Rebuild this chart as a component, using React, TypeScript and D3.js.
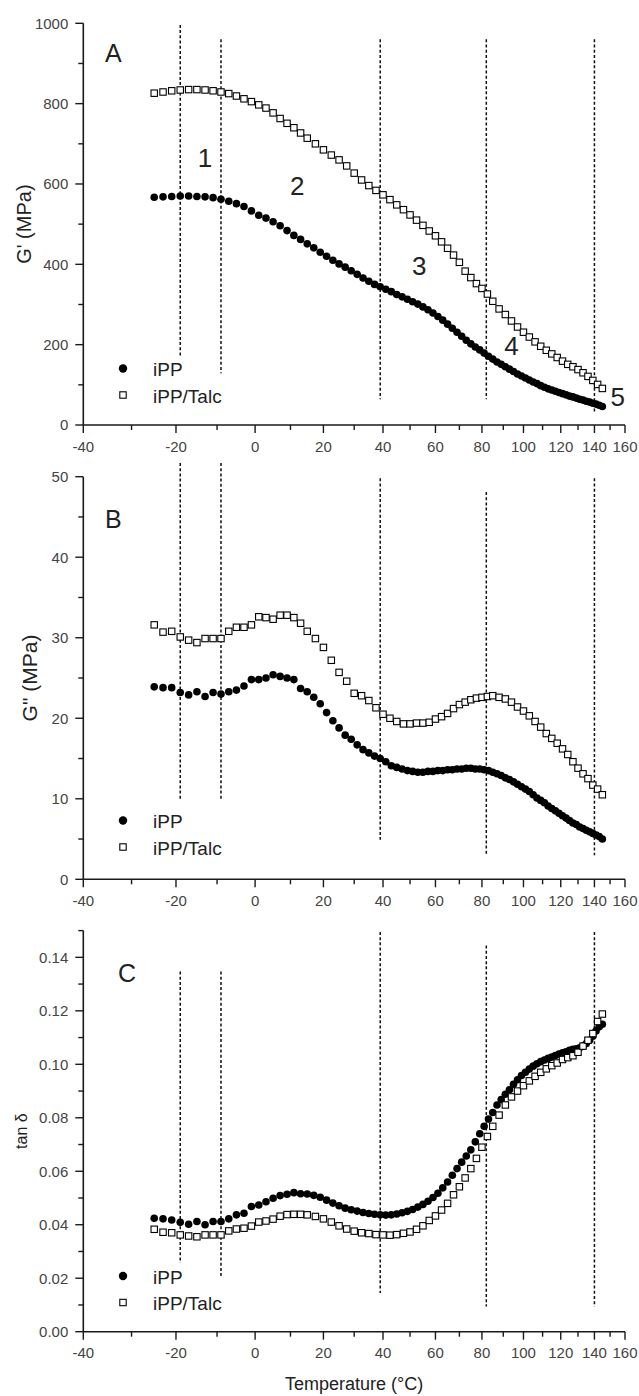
import React from 'react';
import * as d3 from 'd3';

// ---------- data ----------
const iPPTemps = [-25,-23,-21,-19,-17,-15,-13,-11,-9,-7,-5,-3,-1,1,3,5,7,9,11,13,15,17,19,21,23,25,27,29,31,33,35,37,39,41,43,45,47,49,51,53,55,57,59,61,63,65,67,69,71,73,75,77,79,81,83,85,87,89,91,93,95,97,99,101,103,105,107,109,111,113,115,117,119,121,123,125,127,129,131,133,135,137,139,141,143,145];
const talcTemps = [-25,-23,-21,-19,-17,-15,-13,-11,-9,-7,-5,-3,-1,1,3,5,7,9,11,13,15,17.5,20,22.5,25,27.5,30,32.5,35,37.5,40,42.5,45,47.5,50,52.5,55,57.5,60,62.5,65,67.5,70,72.5,75,77.5,80,82.5,85,88,91,94,97,100,103,106,109,112,115,118,121,124,127,130,133,136,139,142,145];

const gPrimeIPP = [567,568,569,570,570,569,568,566,562,557,551,544,533,522,515,506,496,484,472,462,451,441,430,420,410,401,393,384,375,366,358,350,344,338,332,325,319,313,307,301,294,287,279,270,261,251,241,231,221,211,202,194,187,179,171,164,157,151,145,139,133,127,122,117,112,107,103,98,94,90,87,84,81,78,75,72,70,67,64,62,59,57,54,52,49,46];
const gPrimeTalc = [826,829,832,834,835,835,834,832,829,825,819,812,805,797,789,777,763,751,740,727,714,700,685,672,660,645,627,610,596,584,573,561,548,536,523,510,497,483,471,456,440,423,405,383,367,352,340,326,308,289,275,259,244,231,219,207,196,186,177,168,159,151,145,138,130,121,111,101,91];

const gDoubleIPP = [23.9,23.8,23.8,23.2,22.9,23.3,22.7,23.2,23.0,23.3,23.5,24.0,24.8,24.8,25.0,25.4,25.2,25.0,24.8,23.7,23.3,22.6,21.8,20.7,19.7,18.8,17.9,17.4,16.7,16.1,15.7,15.3,15.0,14.6,14.1,13.9,13.7,13.5,13.4,13.3,13.3,13.4,13.4,13.5,13.5,13.6,13.6,13.7,13.7,13.8,13.8,13.7,13.7,13.6,13.5,13.3,13.1,12.9,12.6,12.4,12.1,11.8,11.5,11.2,10.9,10.5,10.1,9.8,9.5,9.1,8.8,8.5,8.2,7.9,7.6,7.3,7.0,6.8,6.5,6.3,6.1,5.9,5.7,5.5,5.3,5.0];
const gDoubleTalc = [31.6,30.7,30.8,30.1,29.7,29.4,29.9,29.9,29.9,30.8,31.3,31.3,31.6,32.6,32.5,32.3,32.8,32.8,32.5,31.8,30.8,29.9,28.8,27.2,25.7,24.6,23.1,22.8,22.2,21.3,20.5,20.0,19.6,19.3,19.3,19.4,19.4,19.5,19.9,20.2,20.6,21.2,21.7,22.0,22.3,22.5,22.6,22.7,22.8,22.6,22.4,22.0,21.4,20.9,20.3,19.6,18.9,18.1,17.5,16.9,16.2,15.5,14.6,13.8,13.1,12.5,11.7,11.2,10.5];

const tanDeltaIPP = [0.0424,0.0422,0.0418,0.0409,0.0402,0.0412,0.0400,0.0412,0.0412,0.0422,0.0437,0.0443,0.0468,0.0474,0.0486,0.0499,0.0509,0.0514,0.0520,0.0516,0.0515,0.0510,0.0503,0.0492,0.0481,0.0471,0.0462,0.0456,0.0451,0.0446,0.0442,0.0439,0.0437,0.0436,0.0437,0.0440,0.0445,0.0450,0.0457,0.0466,0.0476,0.0488,0.0502,0.0518,0.0538,0.0560,0.0585,0.0610,0.0634,0.0657,0.0680,0.0710,0.0740,0.0768,0.0795,0.0820,0.0848,0.0868,0.0888,0.0905,0.0925,0.0942,0.0958,0.0970,0.0982,0.0993,0.1002,0.1010,0.1016,0.1022,0.1027,0.1033,0.1038,0.1043,0.1047,0.1052,0.1056,0.1058,0.1062,0.1068,0.1078,0.1090,0.1105,0.1125,0.1140,0.1150];
const tanDeltaTalc = [0.0383,0.0372,0.0370,0.0362,0.0358,0.0355,0.0362,0.0362,0.0362,0.0377,0.0384,0.0387,0.0395,0.0410,0.0414,0.0421,0.0432,0.0438,0.0439,0.0439,0.0437,0.0431,0.0422,0.0410,0.0396,0.0384,0.0376,0.0370,0.0367,0.0363,0.0362,0.0361,0.0363,0.0368,0.0373,0.0383,0.0396,0.0416,0.0433,0.0455,0.0480,0.0512,0.0542,0.0575,0.0610,0.0648,0.0690,0.0730,0.0768,0.0810,0.0848,0.0878,0.0900,0.0920,0.0938,0.0955,0.0970,0.0983,0.0995,0.1005,0.1018,0.1025,0.1032,0.1045,0.1068,0.1090,0.1115,0.1160,0.1188];

// region boundaries (dashed lines)
const dividerTemps = [-19, -9, 39, 82, 140];
const dividerTopA = [996, 960, 960, 960, 960];
const dividerBottomA = [170, 129, 64, 64, 29];
const dividerTopB = [51.7, 51.7, 49.8, 48.1, 49.8];
const dividerBottomB = [9.9, 9.9, 4.9, 3.0, 3.0];
const dividerTopC = [0.1347, 0.1347, 0.1495, 0.1444, 0.1495];
const dividerBottomC = [0.0257, 0.0201, 0.0145, 0.0094, 0.0094];

// region numbers in panel A
const regionLabels = ['1', '2', '3', '4', '5'];
const regionTemps = [-13, 12, 53.5, 94, 155];
const regionValues = [643, 573, 374, 174, 47];

// axes
const xMajorTicks = [-40, -20, 0, 20, 40, 60, 80, 100, 120, 140, 160];
const xMajorLabels = ['-40', '-20', '0', '20', '40', '60', '80', '100', '120', '140', '160'];
const xMinorTicks = [-30, -10, 10, 30, 50, 70, 90, 110, 130, 150];

const yMajorA = [0, 200, 400, 600, 800, 1000];
const yMajorLabelsA = ['0', '200', '400', '600', '800', '1000'];
const yMinorA = [100, 300, 500, 700, 900];
const yMajorB = [0, 10, 20, 30, 40, 50];
const yMajorLabelsB = ['0', '10', '20', '30', '40', '50'];
const yMinorB = [5, 15, 25, 35, 45];
const yMajorC = [0, 0.02, 0.04, 0.06, 0.08, 0.1, 0.12, 0.14];
const yMajorLabelsC = ['0.00', '0.02', '0.04', '0.06', '0.08', '0.10', '0.12', '0.14'];
const yMinorC = [0.01, 0.03, 0.05, 0.07, 0.09, 0.11, 0.13, 0.15];

const seriesNames = ['iPP', 'iPP/Talc'];

// ---------- layout ----------
const FONT = "'Liberation Sans', Arial, Helvetica, sans-serif";
const X0 = 83.3;
const X1 = 625;
const inv = (t: number) => -1 / (t + 273.15);
const xLin = d3.scaleLinear().domain([inv(-40), inv(160)]).range([X0, X1]);
const x = (t: number) => xLin(inv(t));

type PanelProps = {
  y: d3.ScaleLinear<number, number>;
  yMajor: number[];
  yMajorLabels: string[];
  yMinor: number[];
  ipp: number[];
  talc: number[];
  divTop: number[];
  divBottom: number[];
  letter: string;
  letterX: number;
  letterY: number;
  yTitle: string;
  yTitleX: number;
  yTitleSize: number;
  legendY: number;
};

function Panel(p: PanelProps) {
  const [y0, y1] = p.y.range();
  const axisColor = '#1a1a1a';
  const sq = 6.4;
  return (
    <g>
      {dividerTemps.map((t, i) => (
        <line key={'d' + i} x1={x(t)} x2={x(t)} y1={p.y(p.divTop[i])} y2={p.y(p.divBottom[i])}
          stroke="#111" strokeWidth={1.5} strokeDasharray="3,2.2" />
      ))}
      <line x1={X0} x2={X0} y1={y1} y2={y0} stroke={axisColor} strokeWidth={1.6} />
      <line x1={X0} x2={X1} y1={y0} y2={y0} stroke={axisColor} strokeWidth={1.6} />
      {p.yMajor.map((v, i) => (
        <g key={'ym' + i}>
          <line x1={X0 - 8} x2={X0} y1={p.y(v)} y2={p.y(v)} stroke={axisColor} strokeWidth={1.4} />
          <text x={X0 - 15} y={p.y(v)} dy="0.36em" textAnchor="end" fontSize={15} fill="#444" fontFamily={FONT}>{p.yMajorLabels[i]}</text>
        </g>
      ))}
      {p.yMinor.map((v, i) => (
        <line key={'yn' + i} x1={X0 - 5} x2={X0} y1={p.y(v)} y2={p.y(v)} stroke={axisColor} strokeWidth={1.4} />
      ))}
      {xMajorTicks.map((t, i) => (
        <g key={'xm' + i}>
          <line x1={x(t)} x2={x(t)} y1={y0} y2={y0 + 8} stroke={axisColor} strokeWidth={1.4} />
          <text x={x(t)} y={y0 + 26.5} textAnchor="middle" fontSize={15} fill="#444" fontFamily={FONT}>{xMajorLabels[i]}</text>
        </g>
      ))}
      {xMinorTicks.map((t, i) => (
        <line key={'xn' + i} x1={x(t)} x2={x(t)} y1={y0} y2={y0 + 5} stroke={axisColor} strokeWidth={1.4} />
      ))}
      {iPPTemps.map((t, i) => (
        <circle key={'c' + i} cx={x(t)} cy={p.y(p.ipp[i])} r={3.8} fill="#000" />
      ))}
      {talcTemps.map((t, i) => (
        <rect key={'s' + i} x={x(t) - sq / 2} y={p.y(p.talc[i]) - sq / 2} width={sq} height={sq}
          fill="#fff" stroke="#000" strokeWidth={1.1} />
      ))}
      <text x={p.letterX} y={p.letterY} fontSize={25} fill="#222" fontFamily={FONT}>{p.letter}</text>
      <text transform={`translate(${p.yTitleX},${(y0 + y1) / 2}) rotate(-90)`} textAnchor="middle" dy="0.35em"
        fontSize={p.yTitleSize} fill="#222" fontFamily={FONT}>{p.yTitle}</text>
      <circle cx={123} cy={p.legendY} r={4.2} fill="#000" />
      <text x={153} y={p.legendY + 7.5} fontSize={19} fill="#222" fontFamily={FONT}>{seriesNames[0]}</text>
      <rect x={123 - sq / 2} y={p.legendY + 26.5 - sq / 2} width={sq} height={sq} fill="#fff" stroke="#000" strokeWidth={1.1} />
      <text x={153} y={p.legendY + 34} fontSize={19} fill="#222" fontFamily={FONT}>{seriesNames[1]}</text>
    </g>
  );
}

export default function App() {
  const yA = d3.scaleLinear().domain([0, 1000]).range([425, 23.3]);
  const yB = d3.scaleLinear().domain([0, 50]).range([879.3, 476.7]);
  const yC = d3.scaleLinear().domain([0, 0.15]).range([1331.7, 930.6]);
  return (
    <div style={{ position: 'absolute', left: 0, top: 0 }}>
      <svg width={639} height={1396} style={{ display: 'block', background: '#fff' }}>
        <rect x={0} y={0} width={639} height={1396} fill="#fff" />
        <Panel y={yA} yMajor={yMajorA} yMajorLabels={yMajorLabelsA} yMinor={yMinorA}
          ipp={gPrimeIPP} talc={gPrimeTalc} divTop={dividerTopA} divBottom={dividerBottomA}
          letter="A" letterX={105} letterY={62} yTitle="G' (MPa)" yTitleX={24} yTitleSize={20} legendY={368.5} />
        {regionLabels.map((l, i) => (
          <text key={'r' + i} x={x(regionTemps[i])} y={yA(regionValues[i])} textAnchor="middle" fontSize={26}
            fill="#222" fontFamily={FONT}>{l}</text>
        ))}
        <Panel y={yB} yMajor={yMajorB} yMajorLabels={yMajorLabelsB} yMinor={yMinorB}
          ipp={gDoubleIPP} talc={gDoubleTalc} divTop={dividerTopB} divBottom={dividerBottomB}
          letter="B" letterX={105} letterY={528} yTitle={'G" (MPa)'} yTitleX={30} yTitleSize={21} legendY={820.5} />
        <Panel y={yC} yMajor={yMajorC} yMajorLabels={yMajorLabelsC} yMinor={yMinorC}
          ipp={tanDeltaIPP} talc={tanDeltaTalc} divTop={dividerTopC} divBottom={dividerBottomC}
          letter="C" letterX={118} letterY={982} yTitle="tan δ" yTitleX={21} yTitleSize={16} legendY={1276} />
        <text x={(X0 + X1) / 2} y={1390} textAnchor="middle" fontSize={18} fill="#222" fontFamily={FONT}>
          Temperature (°C)
        </text>
      </svg>
    </div>
  );
}
